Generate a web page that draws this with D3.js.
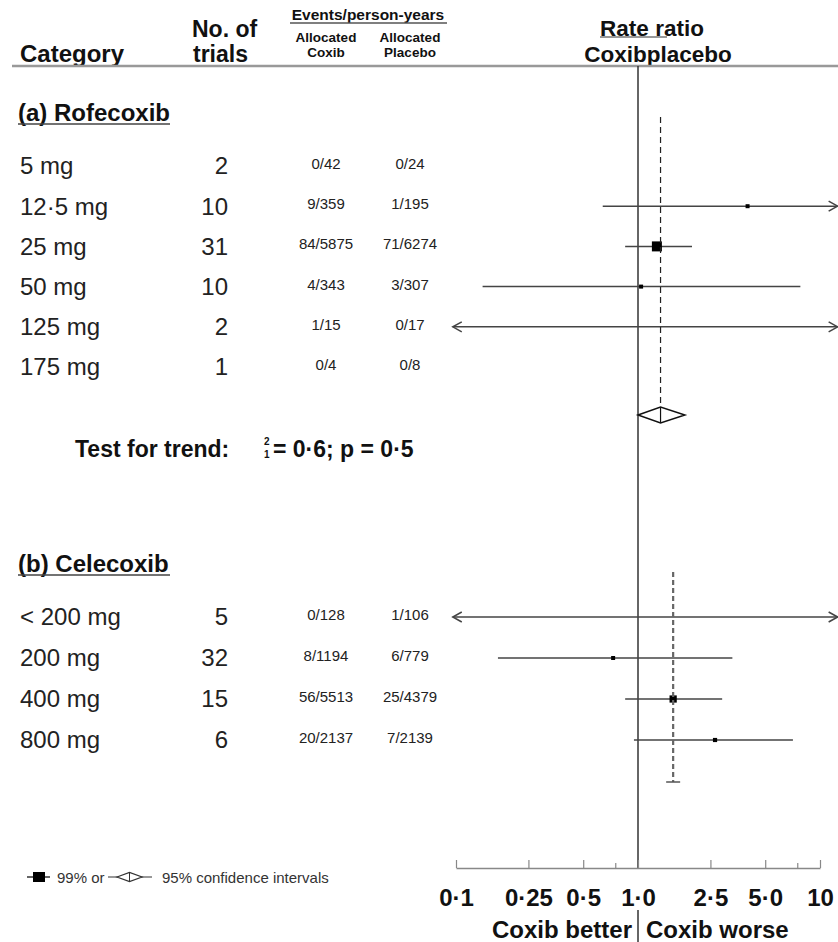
<!DOCTYPE html>
<html>
<head>
<meta charset="utf-8">
<script src="https://cdn.jsdelivr.net/npm/d3@7"></script>
<style>
  body { margin: 0; background: #fff; }
  svg { font-family: "Liberation Sans", Arial, Helvetica, sans-serif; }
</style>
</head>
<body>
<div id="chart"></div>
<script>
// ---- data ----
const rofeCats = ["5 mg", "12·5 mg", "25 mg", "50 mg", "125 mg", "175 mg"];
const rofeTrials = [2, 10, 31, 10, 2, 1];
const rofeCoxib = ["0/42", "9/359", "84/5875", "4/343", "1/15", "0/4"];
const rofePlacebo = ["0/24", "1/195", "71/6274", "3/307", "0/17", "0/8"];
const rofeRR = [null, 4.0, 1.27, 1.04, null, null];
const rofeLo = [null, 0.64, 0.85, 0.14, 0.096, null];
const rofeHi = [null, 12.5, 1.98, 7.8, 12.5, null];

const celeCats = ["< 200 mg", "200 mg", "400 mg", "800 mg"];
const celeTrials = [5, 32, 15, 6];
const celeCoxib = ["0/128", "8/1194", "56/5513", "20/2137"];
const celePlacebo = ["1/106", "6/779", "25/4379", "7/2139"];
const celeRR = [null, 0.73, 1.56, 2.65];
const celeLo = [0.096, 0.17, 0.85, 0.95];
const celeHi = [12.5, 3.3, 2.9, 7.1];

// overall (pooled) rate ratio per drug, with 95% CI for rofecoxib diamond
const pooledRR = [1.33, 1.56];
const rofeDiamond = [1.0, 1.81];

const tickValues = [0.1, 0.25, 0.5, 1, 2.5, 5, 10];
const tickLabels = ["0·1", "0·25", "0·5", "1·0", "2·5", "5·0", "10"];
const minorTicks = [0.75, 7.5];

const W = 838, H = 942;
const svg = d3.select("#chart").append("svg")
  .attr("width", W).attr("height", H);

const x = d3.scaleLog().domain([0.1, 10]).range([456, 820]);
const axisY = 868;
const font = "'Liberation Sans', Arial, sans-serif";

// box size ~ sqrt of total events
const evTotal = (a, b) => (+a.split("/")[0]) + (+b.split("/")[0]);
const boxSize = d3.scaleSqrt().domain([0, 155]).range([0, 10]);

// two-line label as one text element
function stacked(g, lines, xPos, y0, lineGap, size, anchor, xs) {
  const t = g.append("text").attr("font-size", size).attr("text-anchor", anchor);
  lines.forEach((s, i) => {
    t.append("tspan").attr("x", xs ? xs[i] : xPos).attr("y", y0 + i * lineGap).text(s);
  });
  return t;
}

// ---- header ----
const head = svg.append("g").attr("font-weight", "bold").attr("fill", "#111");
head.append("text").attr("x", 20).attr("y", 62).attr("font-size", 24).text("Category");
stacked(head, ["No. of", "trials"], 192, 37, 25, 23, "start", [192, 193]);
head.append("text").attr("x", 368).attr("y", 20).attr("font-size", 15.5)
  .attr("text-anchor", "middle").text("Events/person-years");
head.append("line").attr("x1", 290).attr("x2", 447).attr("y1", 23).attr("y2", 23)
  .attr("stroke", "#555").attr("stroke-width", 1.5);
stacked(head, ["Allocated", "Coxib"], 326, 42, 15, 13.5, "middle");
stacked(head, ["Allocated", "Placebo"], 410, 42, 15, 13.5, "middle");
stacked(head, ["Rate ratio", "Coxibplacebo"], 0, 36, 26, 22.5, "middle", [652, 658]);
head.append("line").attr("x1", 600).attr("x2", 667).attr("y1", 37).attr("y2", 37)
  .attr("stroke", "#333").attr("stroke-width", 1);

svg.append("line").attr("x1", 12).attr("x2", W).attr("y1", 66).attr("y2", 66)
  .attr("stroke", "#999").attr("stroke-width", 2.5);

// ---- vertical reference line at 1 ----
svg.append("line").attr("x1", x(1)).attr("x2", x(1)).attr("y1", 66).attr("y2", axisY)
  .attr("stroke", "#333").attr("stroke-width", 1.5);
svg.append("line").attr("x1", x(1)).attr("x2", x(1)).attr("y1", 910).attr("y2", H)
  .attr("stroke", "#333").attr("stroke-width", 1.5);

function drawSection(cfg) {
  const g = svg.append("g");
  const y = d3.scaleLinear().domain([0, cfg.cats.length - 1]).range(cfg.yRange);

  g.append("text").attr("x", 18).attr("y", cfg.titleY)
    .attr("font-size", 24).attr("font-weight", "bold").attr("fill", "#111")
    .text(cfg.title);
  g.append("line").attr("x1", 18).attr("x2", 170)
    .attr("y1", cfg.titleY + 3).attr("y2", cfg.titleY + 3)
    .attr("stroke", "#444").attr("stroke-width", 1.5);

  const rows = g.selectAll(".row").data(cfg.cats.map((c, i) => ({
    cat: c, trials: cfg.trials[i], cox: cfg.cox[i], pla: cfg.pla[i],
    rr: cfg.rr[i], lo: cfg.lo[i], hi: cfg.hi[i], i
  }))).enter().append("g").attr("class", "row")
    .attr("transform", d => `translate(0,${y(d.i)})`);

  rows.append("text").attr("x", 20).attr("dy", "0.35em")
    .attr("font-size", 24).attr("fill", "#222").text(d => d.cat);
  rows.append("text").attr("x", 228).attr("dy", "0.35em").attr("text-anchor", "end")
    .attr("font-size", 24).attr("fill", "#222").text(d => d.trials);
  rows.append("text").attr("x", 326).attr("dy", "0.2em").attr("text-anchor", "middle")
    .attr("font-size", 15).attr("fill", "#222").text(d => d.cox);
  rows.append("text").attr("x", 410).attr("dy", "0.2em").attr("text-anchor", "middle")
    .attr("font-size", 15).attr("fill", "#222").text(d => d.pla);

  const ci = rows.filter(d => d.lo != null);
  ci.append("line")
    .attr("x1", d => x(d.lo)).attr("x2", d => x(d.hi))
    .attr("stroke", "#444").attr("stroke-width", 1.5);
  // chevrons where the interval runs off the axis
  ci.filter(d => d.hi > 10).append("path")
    .attr("d", d => `M${x(d.hi) - 9},-5L${x(d.hi)},0L${x(d.hi) - 9},5`)
    .attr("fill", "none").attr("stroke", "#444").attr("stroke-width", 1.5);
  ci.filter(d => d.lo < 0.1).append("path")
    .attr("d", d => `M${x(d.lo) + 9},-5L${x(d.lo)},0L${x(d.lo) + 9},5`)
    .attr("fill", "none").attr("stroke", "#444").attr("stroke-width", 1.5);

  const sz = d => Math.max(4, boxSize(evTotal(d.cox, d.pla)));
  rows.filter(d => d.rr != null).append("rect")
    .attr("x", d => x(d.rr) - sz(d) / 2)
    .attr("y", d => -sz(d) / 2)
    .attr("width", sz).attr("height", sz)
    .attr("fill", "#000");

  // pooled estimate
  g.append("line").attr("x1", x(cfg.pooled)).attr("x2", x(cfg.pooled))
    .attr("y1", cfg.dashRange[0]).attr("y2", cfg.dashRange[1])
    .attr("stroke", cfg.dashColor).attr("stroke-width", cfg.dashWidth)
    .attr("stroke-dasharray", cfg.dash);
  return g;
}

const gA = drawSection({
  title: "(a) Rofecoxib", titleY: 121, yRange: [166, 367],
  cats: rofeCats, trials: rofeTrials, cox: rofeCoxib, pla: rofePlacebo,
  rr: rofeRR, lo: rofeLo, hi: rofeHi, pooled: pooledRR[0],
  dashRange: [117, 415], dashColor: "#222", dashWidth: 1.2, dash: "6,4"
});
// diamond for rofecoxib
const dy = 415, dh = 8;
gA.append("path")
  .attr("d", `M${x(rofeDiamond[0])},${dy}L${x(pooledRR[0])},${dy - dh}L${x(rofeDiamond[1])},${dy}L${x(pooledRR[0])},${dy + dh}Z`)
  .attr("fill", "#fff").attr("stroke", "#111").attr("stroke-width", 1.5);
gA.append("line").attr("x1", x(pooledRR[0])).attr("x2", x(pooledRR[0]))
  .attr("y1", dy - dh).attr("y2", dy + dh).attr("stroke", "#111").attr("stroke-width", 1.2);

const gB = drawSection({
  title: "(b) Celecoxib", titleY: 572, yRange: [617, 740],
  cats: celeCats, trials: celeTrials, cox: celeCoxib, pla: celePlacebo,
  rr: celeRR, lo: celeLo, hi: celeHi, pooled: pooledRR[1],
  dashRange: [572, 782], dashColor: "#666", dashWidth: 2.2, dash: "5,3"
});
gB.append("line").attr("x1", x(pooledRR[1]) - 7).attr("x2", x(pooledRR[1]) + 7)
  .attr("y1", 782).attr("y2", 782).attr("stroke", "#555").attr("stroke-width", 1.5);

// ---- test for trend ----
const tt = svg.append("g").attr("font-weight", "bold").attr("fill", "#111");
tt.append("text").attr("x", 75).attr("y", 457).attr("font-size", 23).text("Test for trend:");
tt.append("text").attr("x", 264).attr("y", 445).attr("font-size", 10).text("2");
tt.append("text").attr("x", 264).attr("y", 458).attr("font-size", 10).text("1");
tt.append("text").attr("x", 273).attr("y", 457).attr("font-size", 23).text("= 0·6; p = 0·5");

// ---- axis ----
const axis = svg.append("g").attr("transform", `translate(0,${axisY})`)
  .call(d3.axisBottom(x).tickValues(tickValues)
    .tickFormat((d, i) => tickLabels[i]).tickSizeInner(-8).tickSizeOuter(0).tickPadding(21));
axis.select(".domain").attr("stroke", "#888").attr("stroke-width", 1.5);
axis.selectAll(".tick line").attr("stroke", "#888").attr("stroke-width", 1.2);
axis.selectAll(".tick text").attr("font-size", 24).attr("font-weight", "bold")
  .attr("font-family", font).attr("fill", "#111");

const minor = svg.append("g").attr("transform", `translate(0,${axisY})`)
  .call(d3.axisBottom(x).tickValues(minorTicks).tickFormat("").tickSizeInner(-5).tickSizeOuter(0));
minor.select(".domain").remove();
minor.selectAll(".tick line").attr("stroke", "#888").attr("stroke-width", 1.2);

svg.append("text").attr("x", x(1) - 6).attr("y", 938).attr("text-anchor", "end")
  .attr("font-size", 24).attr("font-weight", "bold").attr("fill", "#111").text("Coxib better");
svg.append("text").attr("x", x(1) + 8).attr("y", 938)
  .attr("font-size", 24).attr("font-weight", "bold").attr("fill", "#111").text("Coxib worse");

// ---- legend ----
const lg = svg.append("g").attr("transform", "translate(0,877)");
lg.append("line").attr("x1", 27).attr("x2", 50).attr("stroke", "#333").attr("stroke-width", 1.5);
lg.append("rect").attr("x", 33).attr("y", -5).attr("width", 12).attr("height", 10).attr("fill", "#000");
lg.append("text").attr("x", 57).attr("y", 6).attr("font-size", 15).attr("fill", "#333").text("99% or");
lg.append("line").attr("x1", 108).attr("x2", 152).attr("stroke", "#333").attr("stroke-width", 1.2);
lg.append("path").attr("d", "M117,0L129.5,-4.5L142,0L129.5,4.5Z")
  .attr("fill", "#fff").attr("stroke", "#333").attr("stroke-width", 1.2);
lg.append("line").attr("x1", 129.5).attr("x2", 129.5).attr("y1", -4.5).attr("y2", 4.5)
  .attr("stroke", "#333").attr("stroke-width", 1);
lg.append("text").attr("x", 162).attr("y", 6).attr("font-size", 15).attr("fill", "#333")
  .text("95% confidence intervals");
</script>
</body>
</html>
